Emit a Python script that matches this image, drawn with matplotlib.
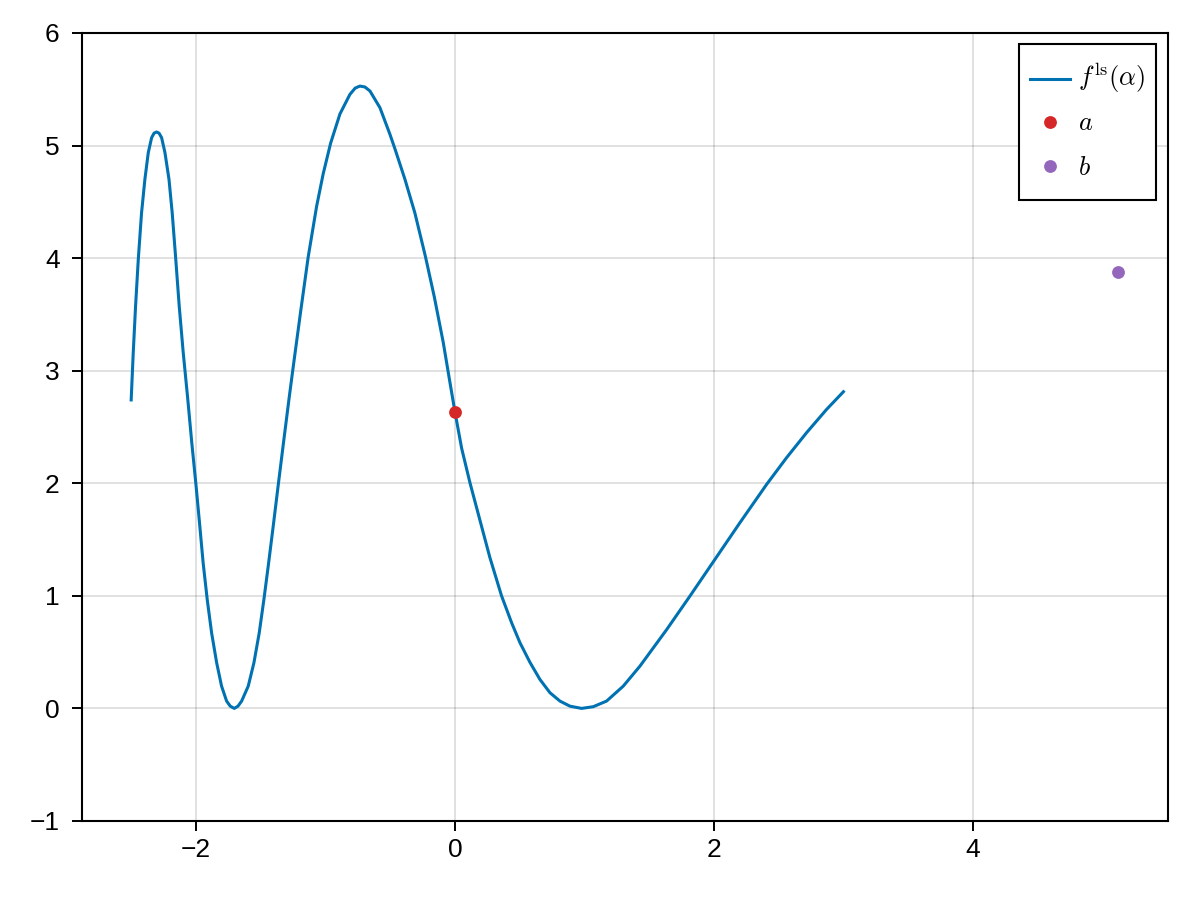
import matplotlib
matplotlib.use("Agg")
import matplotlib.pyplot as plt


# curve f^ls(alpha), points
alphaValues = [-2.5, -2.484, -2.466, -2.445, -2.420, -2.394, -2.368, -2.342, -2.323, -2.304,
               -2.285, -2.265, -2.239, -2.208, -2.183, -2.157, -2.129, -2.098, -2.064, -2.032,
               -2.0, -1.974, -1.944, -1.912, -1.879, -1.840, -1.802, -1.763, -1.735, -1.704,
               -1.675, -1.647, -1.596, -1.552, -1.511, -1.475, -1.441, -1.403, -1.367, -1.326,
               -1.280, -1.248, -1.192, -1.133, -1.068, -1.017, -0.960, -0.888, -0.811, -0.770,
               -0.734, -0.695, -0.656, -0.579, -0.502, -0.463, -0.386, -0.309, -0.229, -0.160,
               -0.090, -0.045, 0.0, 0.052, 0.116, 0.219, 0.270, 0.360, 0.438, 0.502,
               0.579, 0.656, 0.734, 0.811, 0.888, 0.978, 1.068, 1.171, 1.300, 1.429,
               1.635, 1.815, 2.008, 2.201, 2.407, 2.561, 2.716, 2.870, 3.0]
fValues = [2.74, 3.16, 3.574, 3.99, 4.40, 4.70, 4.936, 5.07, 5.11, 5.12,
           5.11, 5.07, 4.936, 4.70, 4.40, 4.01, 3.574, 3.16, 2.76, 2.36,
           1.99, 1.67, 1.29, 0.96, 0.672, 0.406, 0.198, 0.065, 0.02, 0.0,
           0.02, 0.065, 0.198, 0.406, 0.672, 0.968, 1.27, 1.62, 1.96, 2.34,
           2.76, 3.04, 3.52, 4.01, 4.46, 4.75, 5.02, 5.28, 5.454, 5.51,
           5.528, 5.52, 5.484, 5.336, 5.10, 4.97, 4.70, 4.40, 4.02, 3.66,
           3.25, 2.94, 2.635, 2.31, 2.005, 1.56, 1.34, 1.0, 0.76, 0.584,
           0.41, 0.258, 0.139, 0.065, 0.02, 0.0, 0.015, 0.065, 0.198, 0.376,
           0.70, 0.998, 1.324, 1.65, 1.99, 2.227, 2.45, 2.656, 2.813]

# the two points
pointA = (0.0, 2.63)
pointB = (5.12, 3.88)

xTicks = [-2, 0, 2, 4]
yTicks = [-1, 0, 1, 2, 3, 4, 5, 6]

plt.rcParams["font.family"] = ["Liberation Sans", "DejaVu Sans"]
plt.rcParams["mathtext.fontset"] = "cm"


def main():
    fig = plt.figure(figsize=(12, 9), dpi=100)
    ax = fig.add_axes([0.0683, 0.0878, 0.905, 0.8756])

    ax.plot(alphaValues, fValues, color="#0072B2", linewidth=2.2, label=r"$f^{\mathrm{ls}}(\alpha)$",
            zorder=3, solid_joinstyle="round")
    ax.scatter([pointA[0]], [pointA[1]], s=85, color="#D62728", label=r"$a$", zorder=4, linewidths=0)
    ax.scatter([pointB[0]], [pointB[1]], s=85, color="#9467BD", label=r"$b$", zorder=4, linewidths=0)

    ax.set_xlim(-2.88, 5.506)
    ax.set_ylim(-1, 6)
    ax.set_xticks(xTicks)
    ax.set_yticks(yTicks)
    ax.grid(True, color="black", alpha=0.12, linewidth=1.4)
    ax.set_axisbelow(True)

    for spine in ax.spines.values():
        spine.set_linewidth(1.5)
    ax.tick_params(axis="both", direction="out", length=7, width=1.4, labelsize=19)
    ax.tick_params(axis="x", pad=5)
    ax.tick_params(axis="y", pad=9)

    # tall handle boxes so every row gets the same height, markers moved to the text
    leg = ax.legend(loc="upper right", bbox_to_anchor=(0.989, 0.986), borderaxespad=0,
                    fontsize=19, fancybox=False, framealpha=1, edgecolor="black",
                    handlelength=1.5, handleheight=2.217, labelspacing=0.0,
                    borderpad=0.43, handletextpad=0.3, scatteryoffsets=[0.19])
    leg.get_frame().set_linewidth(1.5)
    lineHandle = leg.legend_handles[0]
    lineHandle.set_ydata([4.8] * len(lineHandle.get_xdata())) # line handle down to the middle of the text

    fig.savefig("out.png", dpi=100)


if __name__ == "__main__":
    main()
